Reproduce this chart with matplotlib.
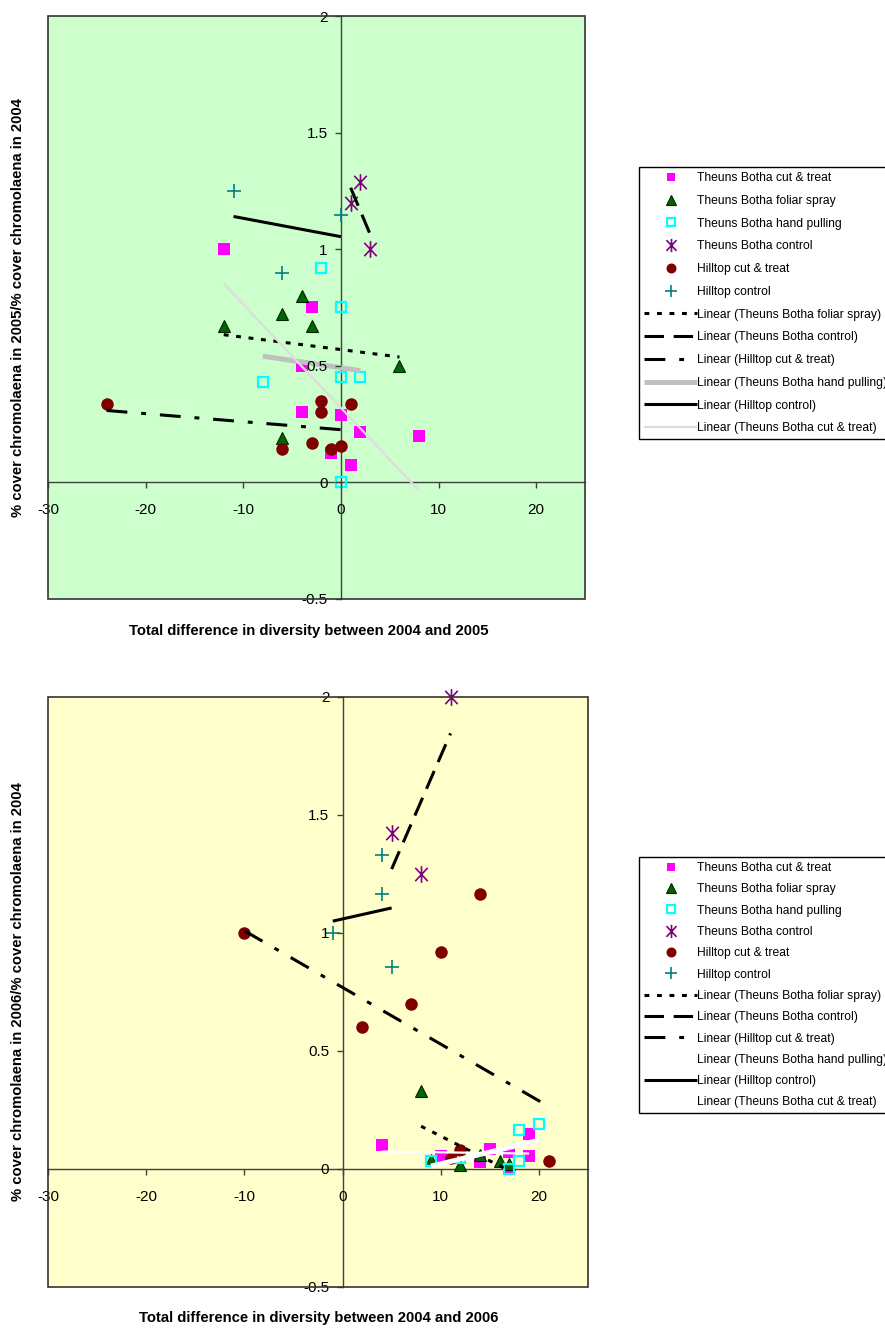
import numpy as np
import matplotlib
matplotlib.use("Agg")
import matplotlib.pyplot as plt
from matplotlib.path import Path
from matplotlib.patches import Rectangle

# ---- data: 2005 vs 2004 ----
tb_cut_x_05 = [-12, -3, -4, -4, 0, 2, -1, 1, 8]
tb_cut_y_05 = [1.0, 0.75, 0.50, 0.30, 0.29, 0.215, 0.125, 0.075, 0.20]
tb_fol_x_05 = [-12, -6, -4, -3, -6, 6]
tb_fol_y_05 = [0.67, 0.72, 0.80, 0.67, 0.19, 0.50]
tb_hand_x_05 = [-8, -2, 0, 0, 2, 0]
tb_hand_y_05 = [0.43, 0.92, 0.75, 0.45, 0.45, 0.0]
tb_ctrl_x_05 = [2, 1, 3]
tb_ctrl_y_05 = [1.29, 1.20, 1.00]
ht_cut_x_05 = [-24, -2, -2, 1, -6, -3, -1, 0]
ht_cut_y_05 = [0.335, 0.35, 0.30, 0.335, 0.145, 0.17, 0.145, 0.155]
ht_ctrl_x_05 = [-11, -6, 0]
ht_ctrl_y_05 = [1.25, 0.90, 1.145]

# ---- data: 2006 vs 2004 ----
tb_cut_x_06 = [4, 10, 14, 15, 17, 17, 19, 19]
tb_cut_y_06 = [0.10, 0.055, 0.03, 0.085, 0.07, 0.0, 0.15, 0.055]
tb_fol_x_06 = [8, 9, 12, 14, 16, 17]
tb_fol_y_06 = [0.33, 0.04, 0.015, 0.06, 0.035, 0.02]
tb_hand_x_06 = [9, 12, 17, 18, 18, 20]
tb_hand_y_06 = [0.035, 0.045, 0.0, 0.035, 0.165, 0.19]
tb_ctrl_x_06 = [11, 5, 8]
tb_ctrl_y_06 = [2.0, 1.425, 1.25]
ht_cut_x_06 = [-10, 2, 7, 10, 14, 21, 12, 11]
ht_cut_y_06 = [1.0, 0.60, 0.70, 0.92, 1.165, 0.035, 0.08, 0.045]
ht_ctrl_x_06 = [4, 4, -1, 5]
ht_ctrl_y_06 = [1.33, 1.165, 1.0, 0.855]

series_names = ["Theuns Botha cut & treat", "Theuns Botha foliar spray",
                "Theuns Botha hand pulling", "Theuns Botha control",
                "Hilltop cut & treat", "Hilltop control"]
x_ticks = [-30, -20, -10, 0, 10, 20]
y_ticks = [-0.5, 0, 0.5, 1, 1.5, 2]
y_tick_labels = ["-0.5", "0", "0.5", "1", "1.5", "2"]

plt.rcParams["font.family"] = ["Liberation Sans", "DejaVu Sans"]
plt.rcParams["lines.scale_dashes"] = False
plt.rcParams["axes.unicode_minus"] = False

star = Path([(0, -1), (0, 1), (-0.75, -0.8), (0.75, 0.8), (-0.75, 0.8), (0.75, -0.8)],
            [Path.MOVETO, Path.LINETO, Path.MOVETO, Path.LINETO, Path.MOVETO, Path.LINETO])

marker_styles = [
    dict(marker="s", ms=8, mfc="#FF00FF", mec="#FF00FF", mew=0),
    dict(marker="^", ms=8.5, mfc="#006600", mec="#002200", mew=0.8),
    dict(marker="s", ms=7, mfc="none", mec="#00FFFF", mew=1.6),
    dict(marker=star, ms=12, mfc="none", mec="#800080", mew=1.2),
    dict(marker="o", ms=9, mfc="#800000", mec="#800000", mew=0),
    dict(marker="+", ms=10, mfc="none", mec="#008080", mew=1.2),
]

lw_dash = 2.2


def trend_styles(light1, light2):
    # order as in legend: foliar, control, hilltop cut, hand pulling, hilltop control, cut & treat
    return [
        ("Linear (Theuns Botha foliar spray)", 1, dict(color="k", lw=lw_dash, dashes=(3.5, 5.5))),
        ("Linear (Theuns Botha control)", 3, dict(color="k", lw=lw_dash, dashes=(14, 7))),
        ("Linear (Hilltop cut & treat)", 4, dict(color="k", lw=lw_dash, dashes=(15, 10, 3.5, 10))),
        ("Linear (Theuns Botha hand pulling)", 2, dict(color=light1, lw=3.6)),
        ("Linear (Hilltop control)", 5, dict(color="k", lw=2.2)),
        ("Linear (Theuns Botha cut & treat)", 0, dict(color=light2, lw=1.6)),
    ]


def draw_panel(ax, data, bg, light1, light2, xlabel, ylabel, xl_pos, leg_anchor, leg_space):
    ax.set_facecolor(bg)
    ax.set_xlim(-30, 25)
    ax.set_ylim(-0.5, 2)
    handles = []
    for (xs, ys), name, st in zip(data, series_names, marker_styles):
        h, = ax.plot(xs, ys, ls="none", label=name, zorder=3, clip_on=False, **st)
        handles.append(h)
    for label, idx, st in trend_styles(light1, light2):
        xs, ys = np.array(data[idx][0], float), np.array(data[idx][1], float)
        k, b = np.polyfit(xs, ys, 1)
        xx = np.array([xs.min(), xs.max()])
        h, = ax.plot(xx, k * xx + b, label=label, zorder=4, solid_capstyle="butt",
                     dash_capstyle="butt", **st)
        handles.append(h)

    for s in ["top", "right"]:
        ax.spines[s].set_visible(False)
    ax.spines["left"].set_position(("data", 0))
    ax.spines["bottom"].set_position(("data", 0))
    for s in ["left", "bottom"]:
        ax.spines[s].set_color("#404040")
        ax.spines[s].set_linewidth(1.0)
    ax.add_patch(Rectangle((0, 0), 1, 1, transform=ax.transAxes, fill=False,
                           ec="#333333", lw=1.2, zorder=6, clip_on=False))
    ax.set_xticks(x_ticks)
    ax.set_yticks(y_ticks)
    ax.set_yticklabels(y_tick_labels)
    ax.tick_params(axis="both", direction="out", length=4.5, width=1, color="#404040",
                   labelsize=11)
    ax.tick_params(axis="x", pad=10.5)
    ax.tick_params(axis="y", pad=5)
    ax.xaxis.set_zorder(5)
    ax.yaxis.set_zorder(5)

    fig.text(xl_pos[0], xl_pos[1], xlabel, ha="center", va="center",
             fontsize=10.7, fontweight="bold")
    pos = ax.get_position()
    fig.text(18 / 885, (pos.y0 + pos.y1) / 2, ylabel, rotation=90, ha="center",
             va="center", fontsize=10.7, fontweight="bold")

    leg = fig.legend(handles=handles, loc="upper left", bbox_to_anchor=leg_anchor,
                     fontsize=8.7, frameon=True, fancybox=False, edgecolor="k",
                     framealpha=1, handlelength=4.4, handletextpad=0.0,
                     labelspacing=leg_space, borderpad=0.42, borderaxespad=0,
                     markerscale=0.8)
    leg.get_frame().set_linewidth(1.0)


fig = plt.figure(figsize=(8.85, 13.29), dpi=100)
ax1 = fig.add_axes([48 / 885, 1 - 599 / 1329, 537 / 885, 583 / 1329])
ax2 = fig.add_axes([48 / 885, 1 - 1287 / 1329, 540 / 885, 590 / 1329])

data05 = [(tb_cut_x_05, tb_cut_y_05), (tb_fol_x_05, tb_fol_y_05),
          (tb_hand_x_05, tb_hand_y_05), (tb_ctrl_x_05, tb_ctrl_y_05),
          (ht_cut_x_05, ht_cut_y_05), (ht_ctrl_x_05, ht_ctrl_y_05)]
data06 = [(tb_cut_x_06, tb_cut_y_06), (tb_fol_x_06, tb_fol_y_06),
          (tb_hand_x_06, tb_hand_y_06), (tb_ctrl_x_06, tb_ctrl_y_06),
          (ht_cut_x_06, ht_cut_y_06), (ht_ctrl_x_06, ht_ctrl_y_06)]

draw_panel(ax1, data05, "#CCFFCC", "#C0C0C0", "#DDDDDD",
           "Total difference in diversity between 2004 and 2005",
           "% cover chromolaena in 2005/% cover chromolaena in 2004",
           (309 / 885, 1 - 631 / 1329), (639 / 885, 1 - 167 / 1329), 0.89)
draw_panel(ax2, data06, "#FFFFCC", "white", "white",
           "Total difference in diversity between 2004 and 2006",
           "% cover chromolaena in 2006/% cover chromolaena in 2004",
           (319 / 885, 1 - 1318 / 1329), (639 / 885, 1 - 857 / 1329), 0.77)

fig.savefig("out.png", dpi=100)
